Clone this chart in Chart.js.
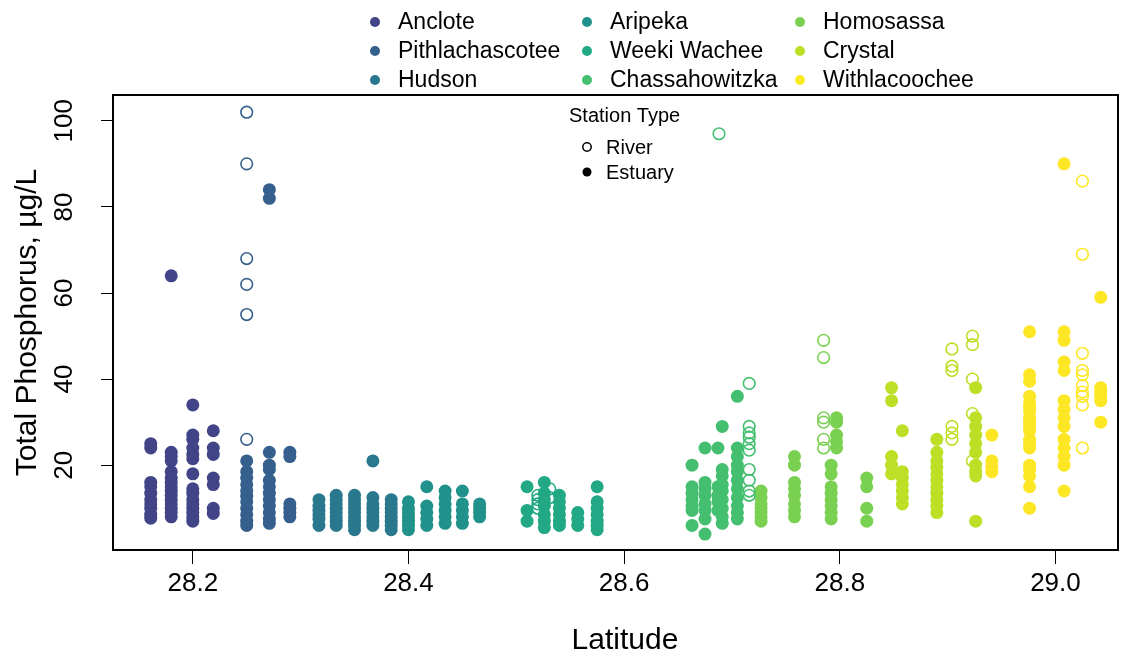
<!DOCTYPE html>
<html>
<head>
<meta charset="utf-8">
<script src="https://cdn.jsdelivr.net/npm/chart.js@4/dist/chart.umd.min.js"></script>
<style>
  html, body { margin: 0; padding: 0; background: #ffffff; overflow: hidden; }
  #wrap { width: 1129px; height: 658px; position: relative; }
</style>
</head>
<body>
<div id="wrap"><canvas id="chart" width="1129" height="658"></canvas></div>
<script>
// Total phosphorus (µg/L) by station latitude, nine Gulf coast rivers.
// Each station is a latitude; each inner list holds the samples at that station.

const riverNames = ['Anclote', 'Pithlachascotee', 'Hudson', 'Aripeka', 'Weeki Wachee',
                    'Chassahowitzka', 'Homosassa', 'Crystal', 'Withlacoochee'];

const xTickValues = [28.2, 28.4, 28.6, 28.8, 29.0];
const xTickLabels = ['28.2', '28.4', '28.6', '28.8', '29.0'];
const yTickValues = [20, 40, 60, 80, 100];
const yTickLabels = ['20', '40', '60', '80', '100'];

// Anclote
const ancloteEstuaryLat = [28.161, 28.180, 28.200, 28.219];
const ancloteEstuaryTP = [
  [25, 24, 16, 15, 13.5, 12, 11, 10, 8.6, 7.7],
  [64, 23, 22, 21, 18.5, 17, 16, 15, 14, 13, 12, 11, 10, 9, 8],
  [34, 27, 26, 24, 22.5, 21.5, 18, 14.5, 13.5, 12, 11, 10, 9, 8, 7],
  [28, 24, 22.5, 17, 15.5, 10, 8.8]
];
const ancloteRiverLat = [];
const ancloteRiverTP = [];

// Pithlachascotee
const pithlaEstuaryLat = [28.250, 28.271, 28.290];
const pithlaEstuaryTP = [
  [21, 18.5, 17, 15.5, 14, 12.8, 11.5, 10, 8.5, 7, 6],
  [84, 82, 23, 20, 19, 16.5, 15, 13.5, 12, 10.5, 9, 7.5, 6.5],
  [23, 22, 11, 10, 9, 8]
];
const pithlaRiverLat = [28.250];
const pithlaRiverTP = [[102, 90, 68, 62, 55, 26]];

// Hudson
const hudsonEstuaryLat = [28.317, 28.333, 28.350, 28.367, 28.384];
const hudsonEstuaryTP = [
  [12, 10.5, 9.5, 8.5, 7.5, 6],
  [13, 12, 11, 10, 9, 8, 7, 6],
  [13, 12, 11, 10, 9, 8, 7, 6, 5],
  [21, 12.5, 11, 10, 9, 8, 7, 6],
  [12, 11, 10, 9, 8, 7, 6, 5]
];
const hudsonRiverLat = [];
const hudsonRiverTP = [];

// Aripeka
const aripekaEstuaryLat = [28.400, 28.417, 28.434, 28.450, 28.466];
const aripekaEstuaryTP = [
  [11.5, 10, 9, 8, 7, 6, 5],
  [15, 10.5, 9, 7.5, 6],
  [14, 12.5, 11, 9.5, 8, 6.5],
  [14, 11, 9.5, 8, 6.5],
  [11, 10, 9, 8]
];
const aripekaRiverLat = [];
const aripekaRiverTP = [];

// Weeki Wachee
const weekiEstuaryLat = [28.510, 28.526, 28.540, 28.557, 28.575];
const weekiEstuaryTP = [
  [15, 9.5, 7],
  [16, 13.5, 12, 10.5, 8.5, 7, 5.5],
  [13, 11.5, 10, 8.5, 7, 6],
  [9, 7.5, 6],
  [15, 11.5, 10, 8.5, 7, 6, 5]
];
const weekiRiverLat = [28.520, 28.531];
const weekiRiverTP = [[13, 12, 11, 10], [14.5, 12.5]];

// Chassahowitzka
const chassaEstuaryLat = [28.663, 28.675, 28.687, 28.691, 28.705];
const chassaEstuaryTP = [
  [20, 15, 13.5, 12, 10.5, 9.5, 6],
  [24, 16, 14.5, 13, 11, 9.5, 7.5, 4],
  [24, 15, 13, 11.5, 9.5],
  [29, 19, 17.5, 15.5, 14, 12, 10, 8, 6.5],
  [36, 24, 22, 20, 18.5, 16.5, 14.5, 12.5, 10.5, 9, 7.5]
];
const chassaRiverLat = [28.688, 28.716];
const chassaRiverTP = [[97], [39, 29, 27.5, 26.5, 25, 23.5, 19, 16.5, 14, 13]];

// Homosassa
const homosassaEstuaryLat = [28.727, 28.758, 28.792, 28.797, 28.825];
const homosassaEstuaryTP = [
  [14, 12.5, 11, 10, 9, 8, 7],
  [22, 20, 16, 14.5, 13, 11, 9.5, 8],
  [20, 18, 15, 13.5, 12, 10.5, 9, 7.5],
  [31, 30, 27, 25.5, 24],
  [17, 15, 10, 7]
];
const homosassaRiverLat = [28.785];
const homosassaRiverTP = [[49, 45, 31, 30, 26, 24]];

// Crystal
const crystalEstuaryLat = [28.848, 28.858, 28.890, 28.926];
const crystalEstuaryTP = [
  [38, 35, 22, 20, 18],
  [28, 18.5, 17, 15.5, 14, 12.5, 11],
  [26, 23, 21, 19.5, 18, 16.5, 15, 13.5, 12, 10.5, 9],
  [38, 31, 29, 27, 25, 23, 20, 18.5, 17.5, 7]
];
const crystalRiverLat = [28.904, 28.923];
const crystalRiverTP = [[47, 43, 42, 29, 27.5, 26], [50, 48, 40, 32, 21]];

// Withlacoochee
const withlaEstuaryLat = [28.941, 28.976, 29.008, 29.042];
const withlaEstuaryTP = [
  [27, 21, 19.5, 18.5],
  [51, 41, 39.5, 36, 34.5, 33.5, 32.5, 31, 30, 29, 28, 26, 25, 24, 20, 19, 17.5, 15, 10],
  [90, 51, 49, 44, 42, 35, 33, 31, 29, 26, 24, 22, 20, 14],
  [59, 38, 37, 36, 35, 30]
];
const withlaRiverLat = [29.025];
const withlaRiverTP = [[86, 69, 46, 42, 41, 38.5, 37, 36, 34, 24]];

// Colour ramp (viridis, 0.2 .. 1.0)
const riverColors = ['#414487', '#355F8D', '#2A788E', '#21918C', '#22A884',
                     '#44BF70', '#7AD151', '#BDDF26', '#FDE725'];

const estuaryLats = [ancloteEstuaryLat, pithlaEstuaryLat, hudsonEstuaryLat, aripekaEstuaryLat,
  weekiEstuaryLat, chassaEstuaryLat, homosassaEstuaryLat, crystalEstuaryLat, withlaEstuaryLat];
const estuaryTPs = [ancloteEstuaryTP, pithlaEstuaryTP, hudsonEstuaryTP, aripekaEstuaryTP,
  weekiEstuaryTP, chassaEstuaryTP, homosassaEstuaryTP, crystalEstuaryTP, withlaEstuaryTP];
const riverLats = [ancloteRiverLat, pithlaRiverLat, hudsonRiverLat, aripekaRiverLat,
  weekiRiverLat, chassaRiverLat, homosassaRiverLat, crystalRiverLat, withlaRiverLat];
const riverTPs = [ancloteRiverTP, pithlaRiverTP, hudsonRiverTP, aripekaRiverTP,
  weekiRiverTP, chassaRiverTP, homosassaRiverTP, crystalRiverTP, withlaRiverTP];

function toPoints(lats, values) {
  const pts = [];
  lats.forEach((lat, i) => values[i].forEach(v => pts.push({ x: lat, y: v })));
  return pts;
}

const FONT = '"Liberation Sans", Arial, Helvetica, sans-serif';

const datasets = [];
// open circles (river stations) are listed first so they sit on top
riverNames.forEach((name, k) => {
  datasets.push({
    label: name + ' (River)',
    data: toPoints(riverLats[k], riverTPs[k]),
    pointStyle: 'circle',
    pointRadius: 5.8,
    borderWidth: 1.6,
    borderColor: riverColors[k],
    backgroundColor: 'rgba(255,255,255,0)'
  });
});
riverNames.forEach((name, k) => {
  datasets.push({
    label: name + ' (Estuary)',
    data: toPoints(estuaryLats[k], estuaryTPs[k]),
    pointStyle: 'circle',
    pointRadius: 6.5,
    borderWidth: 0,
    borderColor: riverColors[k],
    backgroundColor: riverColors[k]
  });
});

// plot frame and x-axis title
const framePlugin = {
  id: 'frame',
  afterDraw(chart) {
    const { ctx, chartArea: a } = chart;
    ctx.save();
    ctx.strokeStyle = '#000';
    ctx.lineWidth = 2;
    ctx.strokeRect(a.left, a.top, a.right - a.left, a.bottom - a.top);
    ctx.fillStyle = '#000';
    ctx.font = '30px ' + FONT;
    ctx.textAlign = 'center';
    ctx.textBaseline = 'middle';
    ctx.fillText('Latitude', 625, 641);
    ctx.restore();
  }
};

// river colour key above the plot and station-type key inside it
const keyPlugin = {
  id: 'keys',
  afterDraw(chart) {
    const ctx = chart.ctx;
    ctx.save();
    const colX = [375, 587, 800];
    const rowY = [22, 51, 80];
    ctx.font = '23px ' + FONT;
    ctx.textBaseline = 'middle';
    ctx.textAlign = 'left';
    riverNames.forEach((name, k) => {
      const c = Math.floor(k / 3), r = k % 3;
      ctx.fillStyle = riverColors[k];
      ctx.beginPath();
      ctx.arc(colX[c], rowY[r], 5, 0, Math.PI * 2);
      ctx.fill();
      ctx.fillStyle = '#000';
      ctx.fillText(name, colX[c] + 23, rowY[r] + 1);
    });

    ctx.font = '20px ' + FONT;
    ctx.fillStyle = '#000';
    ctx.fillText('Station Type', 569, 116);
    ctx.strokeStyle = '#000';
    ctx.lineWidth = 1.5;
    ctx.beginPath();
    ctx.arc(587, 147, 4.2, 0, Math.PI * 2);
    ctx.stroke();
    ctx.beginPath();
    ctx.arc(587, 172, 4.5, 0, Math.PI * 2);
    ctx.fill();
    ctx.fillText('River', 606, 148);
    ctx.fillText('Estuary', 606, 173);
    ctx.restore();
  }
};

new Chart(document.getElementById('chart'), {
  type: 'scatter',
  data: { datasets },
  options: {
    responsive: false,
    animation: false,
    events: [],
    layout: { padding: { left: 0, top: 95, right: 11, bottom: 0 } },
    plugins: { legend: { display: false }, tooltip: { enabled: false } },
    scales: {
      x: {
        type: 'linear',
        position: 'bottom',
        min: 28.126,
        max: 29.058,
        afterFit(s) { s.height = 108; },
        afterBuildTicks(s) { s.ticks = xTickValues.map(v => ({ value: v })); },
        ticks: {
          color: '#000',
          font: { family: FONT, size: 26 },
          padding: 4,
          minRotation: 0,
          maxRotation: 0,
          autoSkip: false,
          callback: (v, i) => xTickLabels[i]
        },
        grid: { drawOnChartArea: false, drawTicks: true, tickLength: 14, color: '#000', lineWidth: 1 },
        border: { display: false },
        title: { display: false }
      },
      y: {
        type: 'linear',
        position: 'left',
        min: 0.3,
        max: 106,
        afterFit(s) { s.width = 113; },
        afterBuildTicks(s) { s.ticks = yTickValues.map(v => ({ value: v })); },
        ticks: {
          color: '#000',
          font: { family: FONT, size: 26 },
          minRotation: 90,
          maxRotation: 90,
          crossAlign: 'center',
          padding: 14,
          autoSkip: false,
          callback: (v, i) => yTickLabels[i]
        },
        grid: { drawOnChartArea: false, drawTicks: true, tickLength: 12, color: '#000', lineWidth: 1 },
        border: { display: false },
        title: {
          display: true, text: 'Total Phosphorus, µg/L', color: '#000',
          font: { family: FONT, size: 30 }, padding: { top: 10, bottom: 0 }
        }
      }
    }
  },
  plugins: [framePlugin, keyPlugin]
});
</script>
</body>
</html>
